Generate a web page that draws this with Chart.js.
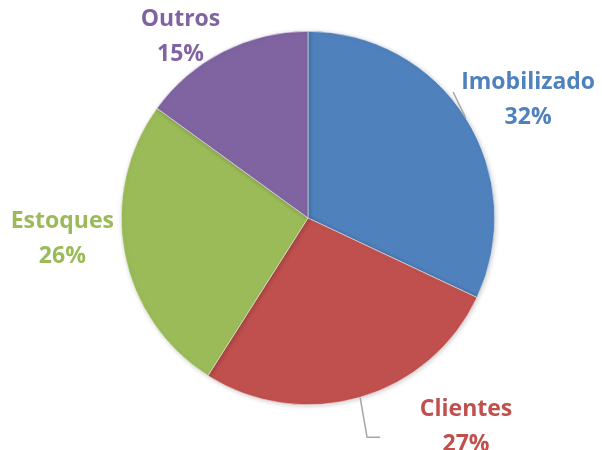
<!DOCTYPE html>
<html>
<head>
<meta charset="utf-8">
<script src="https://cdn.jsdelivr.net/npm/chart.js@4"></script>
<style>
    html, body { margin: 0; padding: 0; background: #fff; }
    #wrap { width: 602px; height: 450px; }
</style>
</head>
<body>
<div id="wrap"><canvas id="pieChart" width="602" height="450"></canvas></div>
<script>
const categories = ['Imobilizado', 'Clientes', 'Estoques', 'Outros'];
const shares = [32, 27, 26, 15];
const colors = ['#4F81BD', '#C0504D', '#9BBB59', '#8064A2'];

// label placement: angle tweak (deg) and distance as a factor of the radius
const labelAngleShift = [4, -21, 6, -8];
const labelDist = [1.34, 1.40, 1.32, 1.19];
const leaderLine = [true, true, false, false];

// ---------- Labels + leader lines ----------
const pieLabels = {
    id: 'pieLabels',
    beforeDatasetsDraw(chart) {
        const c = chart.ctx;
        c.save();
        c.shadowColor = 'rgba(0,0,0,0.2)';
        c.shadowBlur = 5;
        c.shadowOffsetX = 1;
        c.shadowOffsetY = 1;
    },
    afterDatasetsDraw(chart) {
        const c = chart.ctx;
        c.restore();
        const meta = chart.getDatasetMeta(0);
        meta.data.forEach((arc, i) => {
            const { x, y, startAngle, endAngle, outerRadius } = arc.getProps(['x', 'y', 'startAngle', 'endAngle', 'outerRadius'], true);
            const mid = (startAngle + endAngle) / 2;
            const a = mid + labelAngleShift[i] * Math.PI / 180;
            const lx = x + Math.cos(a) * outerRadius * labelDist[i];
            const ly = y + Math.sin(a) * outerRadius * labelDist[i];

            c.save();
            if (leaderLine[i]) {
                const px = x + Math.cos(mid) * outerRadius;
                const py = y + Math.sin(mid) * outerRadius;
                c.strokeStyle = '#A6A6A6';
                c.lineWidth = 1.5;
                c.beginPath();
                c.moveTo(px, py);
                if (i === 0) {
                    c.lineTo(lx - 75, ly - 7);
                } else {
                    c.lineTo(lx - 99, ly + 11);
                    c.lineTo(lx - 86, ly + 11);
                }
                c.stroke();
            }
            c.fillStyle = colors[i];
            c.font = 'bold 23px "Open Sans"';
            c.textAlign = 'center';
            c.textBaseline = 'middle';
            c.fillText(categories[i], lx, ly - 17);
            c.fillText(shares[i] + '%', lx, ly + 18);
            c.restore();
        });
    }
};

new Chart(document.getElementById('pieChart').getContext('2d'), {
    type: 'pie',
    data: {
        labels: categories,
        datasets: [{
            data: shares,
            backgroundColor: colors,
            borderColor: '#ffffff',
            borderWidth: 0.5
        }]
    },
    options: {
        responsive: false,
        animation: false,
        layout: { padding: { top: 31, bottom: 45, left: 121, right: 107 } },
        plugins: {
            legend: { display: false },
            tooltip: { enabled: false }
        }
    },
    plugins: [pieLabels]
});
</script>
</body>
</html>
